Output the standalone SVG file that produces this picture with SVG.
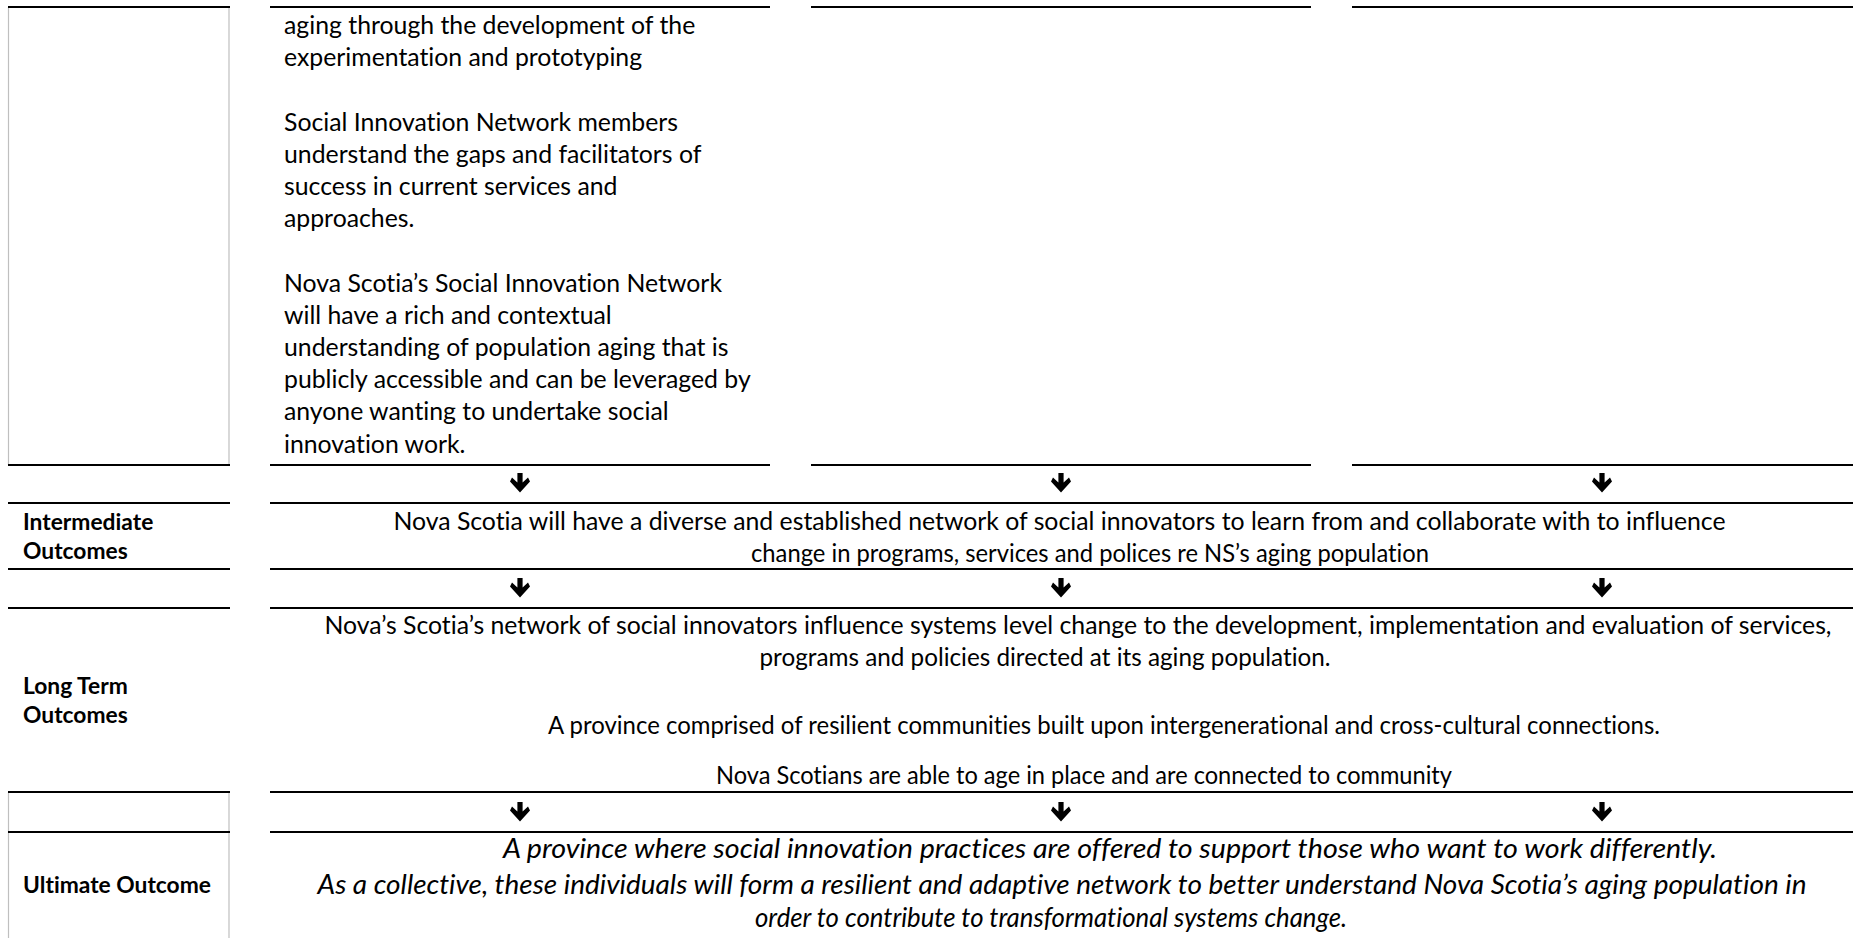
<svg xmlns="http://www.w3.org/2000/svg" xmlns:xlink="http://www.w3.org/1999/xlink" width="1853" height="938" viewBox="0 0 1853 938">
<style>
.rule{stroke:#000;stroke-width:2.2;fill:none}
.grid{stroke:#bfbfbf;stroke-width:1.2;fill:none}
.t{font-family:Lato,"Liberation Sans",sans-serif;font-size:24.8px;fill:#000;font-variant-ligatures:none}
.lbl{font-family:Lato,"Liberation Sans",sans-serif;font-size:22.8px;font-weight:bold;fill:#000;font-variant-ligatures:none}
.c{text-anchor:middle}
.it{font-style:italic;font-size:27px}
.arrow{fill:#000}
</style>
<defs>
<path id="arr" class="arrow" d="M-2.6,0 H2.6 V9.5 L8,4.5 L10,8.5 L0,19.5 L-10,8.5 L-8,4.5 L-2.6,9.5 Z"/>
</defs>
<rect width="1853" height="938" fill="#fff"/>

<g id="table-rules">
<line class="grid" x1="8.5" y1="7" x2="8.5" y2="465"/>
<line class="grid" x1="229" y1="7" x2="229" y2="465"/>
<line class="grid" x1="8.5" y1="792" x2="8.5" y2="938"/>
<line class="grid" x1="229" y1="792" x2="229" y2="938"/>
<path class="rule" d="M8,7 H230 M270,7 H770 M811,7 H1311 M1352,7 H1853"/>
<path class="rule" d="M8,465 H230 M270,465 H770 M811,465 H1311 M1352,465 H1853"/>
<path class="rule" d="M8,503 H230 M270,503 H1853"/>
<path class="rule" d="M8,569 H230 M270,569 H1853"/>
<path class="rule" d="M8,608 H230 M270,608 H1853"/>
<path class="rule" d="M8,792 H230 M270,792 H1853"/>
<path class="rule" d="M8,832 H230 M270,832 H1853"/>
</g>

<g id="short-term-outcomes">
<text class="t" x="284">
<tspan x="284" y="34">aging through the development of the</tspan>
<tspan x="284" y="66.2">experimentation and prototyping</tspan>
<tspan x="284" y="130.6">Social Innovation Network members</tspan>
<tspan x="284" y="162.8">understand the gaps and facilitators of</tspan>
<tspan x="284" y="195">success in current services and</tspan>
<tspan x="284" y="227.2">approaches.</tspan>
<tspan x="284" y="291.6">Nova Scotia’s Social Innovation Network</tspan>
<tspan x="284" y="323.8">will have a rich and contextual</tspan>
<tspan x="284" y="356">understanding of population aging that is</tspan>
<tspan x="284" y="388.2">publicly accessible and can be leveraged by</tspan>
<tspan x="284" y="420.4">anyone wanting to undertake social</tspan>
<tspan x="284" y="452.6">innovation work.</tspan>
</text>
</g>

<g id="intermediate-outcomes">
<text class="lbl" x="23"><tspan x="23" y="530">Intermediate</tspan><tspan x="23" y="559">Outcomes</tspan></text>
<text class="t c" x="1059.5" y="530">Nova Scotia will have a diverse and established network of social innovators to learn from and collaborate with to influence</text>
<text class="t c" x="1090" y="562" textLength="678" lengthAdjust="spacingAndGlyphs">change in programs, services and polices re NS’s aging population</text>
</g>

<g id="long-term-outcomes">
<text class="lbl" x="23"><tspan x="23" y="694">Long Term</tspan><tspan x="23" y="723">Outcomes</tspan></text>
<text class="t c" x="1078" y="634">Nova’s Scotia’s network of social innovators influence systems level change to the development, implementation and evaluation of services,</text>
<text class="t c" x="1045" y="666" textLength="571" lengthAdjust="spacingAndGlyphs">programs and policies directed at its aging population.</text>
<text class="t c" x="1104" y="734" textLength="1112" lengthAdjust="spacingAndGlyphs">A province comprised of resilient communities built upon intergenerational and cross-cultural connections.</text>
<text class="t c" x="1084" y="784" textLength="736" lengthAdjust="spacingAndGlyphs">Nova Scotians are able to age in place and are connected to community</text>
</g>

<g id="ultimate-outcome">
<text class="lbl" x="23" y="893">Ultimate Outcome</text>
<text class="t c it" x="1110" y="858" textLength="1214" lengthAdjust="spacingAndGlyphs">A province where social innovation practices are offered to support those who want to work differently.</text>
<text class="t c it" x="1062" y="894" textLength="1489" lengthAdjust="spacingAndGlyphs">As a collective, these individuals will form a resilient and adaptive network to better understand Nova Scotia’s aging population in</text>
<text class="t c it" x="1051" y="927" textLength="592" lengthAdjust="spacingAndGlyphs">order to contribute to transformational systems change.</text>
</g>

<g id="connectors">
<use xlink:href="#arr" x="520" y="473"/>
<use xlink:href="#arr" x="1061" y="473"/>
<use xlink:href="#arr" x="1602" y="473"/>
<use xlink:href="#arr" x="520" y="578"/>
<use xlink:href="#arr" x="1061" y="578"/>
<use xlink:href="#arr" x="1602" y="578"/>
<use xlink:href="#arr" x="520" y="802"/>
<use xlink:href="#arr" x="1061" y="802"/>
<use xlink:href="#arr" x="1602" y="802"/>
</g>
</svg>
